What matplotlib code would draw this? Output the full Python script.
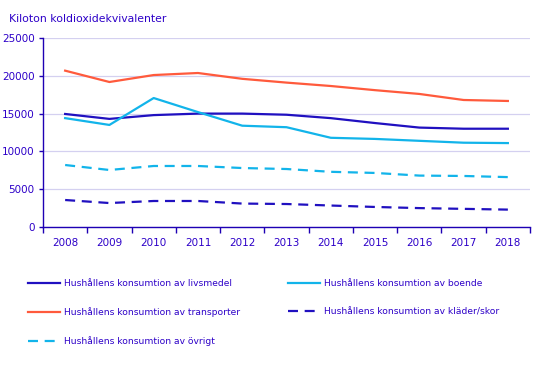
import matplotlib
matplotlib.use("Agg")
import matplotlib.pyplot as plt

years = ["2008", "2009", "2010", "2011", "2012", "2013", "2014", "2015", "2016", "2017", "2018"]
livsmedel = [14950, 14300, 14800, 15000, 15000, 14850, 14400, 13750, 13150, 13000, 13000]
boende = [14400, 13500, 17060, 15200, 13400, 13200, 11800, 11650, 11400, 11150, 11100]
transporter = [20680, 19180, 20100, 20370, 19600, 19100, 18650, 18100, 17600, 16800, 16670]
klader = [3570, 3170, 3440, 3440, 3100, 3040, 2840, 2650, 2500, 2400, 2300]
ovrigt = [8200, 7540, 8070, 8070, 7800, 7670, 7300, 7150, 6800, 6750, 6600]
labels = ["Hushållens konsumtion av livsmedel",
          "Hushållens konsumtion av boende",
          "Hushållens konsumtion av transporter",
          "Hushållens konsumtion av kläder/skor",
          "Hushållens konsumtion av övrigt"]
y_title = "Kiloton koldioxidekvivalenter"

TXT = "#2d00c8"
AX = "#1e00b4"
DARK = "#2010c0"
LIGHT = "#12b4ea"
ORANGE = "#ff5a3c"

plt.rcParams["font.family"] = "DejaVu Sans"
W, H = 550, 367
fig = plt.figure(figsize=(W / 100, H / 100), dpi=100)
ax = fig.add_axes([43 / W, 1 - 227 / H, (530 - 43) / W, (227 - 38) / H])

x = list(range(len(years)))
lw = 1.6
l1, = ax.plot(x, livsmedel, color=DARK, lw=lw)
l2, = ax.plot(x, boende, color=LIGHT, lw=lw)
l3, = ax.plot(x, transporter, color=ORANGE, lw=lw)
l4, = ax.plot(x, klader, color=DARK, lw=lw, dashes=(4.5, 3))
l5, = ax.plot(x, ovrigt, color=LIGHT, lw=lw, dashes=(4.5, 3))

ax.set_xlim(-0.5, len(years) - 0.5)
ax.set_ylim(0, 25000)
ax.set_yticks(range(0, 25001, 5000))
ax.set_yticklabels([str(v) for v in range(0, 25001, 5000)])
ax.grid(axis="y", color="#d4d0f0", lw=0.9)
ax.set_axisbelow(True)
for s in ["top", "right"]:
    ax.spines[s].set_visible(False)
for s in ["left", "bottom"]:
    ax.spines[s].set_color(AX)
    ax.spines[s].set_linewidth(1.0)

ax.set_xticks(x)
ax.set_xticklabels(years)
ax.set_xticks([i - 0.5 for i in range(len(years) + 1)], minor=True)
ax.tick_params(axis="x", which="major", length=0, pad=8, labelsize=7.5, labelcolor=TXT)
ax.tick_params(axis="x", which="minor", length=4, color=AX, width=1)
ax.tick_params(axis="y", length=3, color=AX, width=1, labelsize=7.5, labelcolor=TXT, pad=3)

fig.text(9 / W, 1 - 18.5 / H, y_title, color=TXT, fontsize=7.8, va="center", ha="left")

order = [0, 2, 4, 1, 3]
handles = [l1, l2, l3, l4, l5]
leg = fig.legend([handles[i] for i in order], [labels[i] for i in order], loc="upper left",
                 bbox_to_anchor=(28 / W, 1 - 279 / H), ncol=2, frameon=False,
                 fontsize=6.6, handlelength=3.5, handletextpad=0.45,
                 columnspacing=5.2, labelspacing=2.1, borderaxespad=0, borderpad=0)
for t in leg.get_texts():
    t.set_color(TXT)
fig.savefig("out.png", dpi=100)
